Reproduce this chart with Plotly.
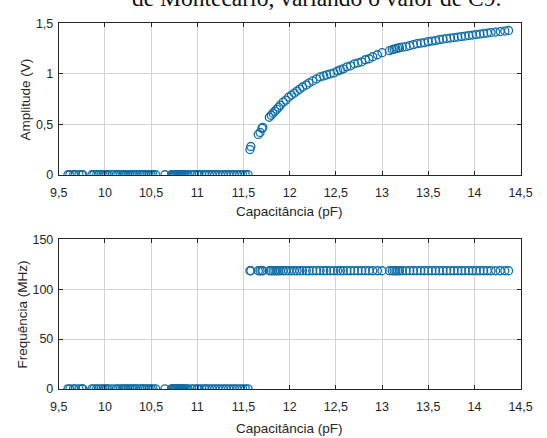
import plotly.graph_objects as go

# Capacitance samples (pF) where the oscillator does not start
cap_off = [9.60, 9.62, 9.66, 9.68, 9.72, 9.75, 9.76, 9.86, 9.88, 9.91, 9.93, 9.96,
           9.98, 10.00, 10.02, 10.04, 10.08, 10.12, 10.14, 10.17, 10.19, 10.21, 10.23,
           10.25, 10.27, 10.29, 10.31, 10.33, 10.35, 10.38, 10.40, 10.42, 10.44, 10.46,
           10.48, 10.50, 10.52, 10.55, 10.65, 10.72, 10.73, 10.74, 10.75, 10.76, 10.77,
           10.78, 10.79, 10.80, 10.81, 10.82, 10.83, 10.84, 10.85, 10.86, 10.88, 10.90,
           10.94, 10.97, 11.00, 11.02, 11.05, 11.08, 11.10, 11.13, 11.16, 11.19, 11.22,
           11.25, 11.28, 11.31, 11.34, 11.37, 11.40, 11.43, 11.46, 11.49, 11.52, 11.55]
amp_off = [0.0] * len(cap_off)
freq_off = [0.0] * len(cap_off)

# Capacitance samples (pF) where the oscillator runs, with output amplitude (V)
cap_on = [11.57, 11.58, 11.66, 11.68, 11.70, 11.71, 11.78, 11.80, 11.82, 11.84, 11.86,
          11.88, 11.90, 11.93, 11.96, 11.99, 12.02, 12.05, 12.08, 12.11, 12.14, 12.18,
          12.21, 12.25, 12.29, 12.33, 12.37, 12.40, 12.44, 12.48, 12.52, 12.55, 12.58,
          12.62, 12.66, 12.70, 12.74, 12.78, 12.82, 12.86, 12.90, 12.95, 13.00, 13.08,
          13.11, 13.13, 13.15, 13.17, 13.19, 13.22, 13.26, 13.30, 13.34, 13.38, 13.42,
          13.46, 13.50, 13.54, 13.58, 13.62, 13.66, 13.70, 13.74, 13.78, 13.82, 13.86,
          13.90, 13.94, 13.98, 14.02, 14.06, 14.10, 14.14, 14.18, 14.23, 14.28, 14.33,
          14.37]
amp_on = [0.25, 0.28, 0.40, 0.42, 0.46, 0.47, 0.57, 0.59, 0.61, 0.63, 0.65,
          0.67, 0.69, 0.72, 0.74, 0.77, 0.79, 0.81, 0.83, 0.85, 0.87, 0.89,
          0.91, 0.93, 0.95, 0.97, 0.98, 0.99, 1.00, 1.01, 1.03, 1.04, 1.05,
          1.07, 1.08, 1.10, 1.11, 1.12, 1.14, 1.15, 1.17, 1.19, 1.21, 1.23,
          1.24, 1.245, 1.25, 1.255, 1.26, 1.265, 1.27, 1.28, 1.29, 1.30, 1.305,
          1.31, 1.32, 1.325, 1.33, 1.34, 1.345, 1.35, 1.355, 1.36, 1.365, 1.37,
          1.375, 1.38, 1.385, 1.39, 1.395, 1.40, 1.405, 1.41, 1.415, 1.42, 1.425,
          1.43]
freq_on = [118.5] * len(cap_on)

x_ticks = [9.5, 10, 10.5, 11, 11.5, 12, 12.5, 13, 13.5, 14, 14.5]
x_labels = ["9,5", "10", "10,5", "11", "11,5", "12", "12,5", "13", "13,5", "14", "14,5"]
amp_ticks = [0, 0.5, 1, 1.5]
amp_labels = ["0", "0,5", "1", "1,5"]
freq_ticks = [0, 50, 100, 150]
freq_labels = ["0", "50", "100", "150"]

W, H = 547, 438
blue = "#0f6ea8"
dark = "#262626"
family = "Liberation Sans, Arial, sans-serif"
tick_font = dict(family=family, size=12.5, color=dark)
title_font = dict(family=family, size=13.5, color=dark)

marker = dict(symbol="circle-open", size=8, color=blue, line=dict(width=1.3, color=blue))

fig = go.Figure()
fig.add_trace(go.Scatter(x=cap_off + cap_on, y=amp_off + amp_on, mode="markers",
                         marker=marker, xaxis="x", yaxis="y", showlegend=False))
fig.add_trace(go.Scatter(x=cap_off + cap_on, y=freq_off + freq_on, mode="markers",
                         marker=marker, xaxis="x2", yaxis="y2", showlegend=False))

x_dom = [51.7 / W, 532 / W]
top_dom = [1 - 173.3 / H, 1 - 17 / H]
bot_dom = [1 - 394.5 / H, 1 - 240 / H]

axis_common = dict(showline=True, linecolor=dark, linewidth=0.8, mirror="ticks",
                   ticks="inside", ticklen=4, tickcolor=dark, showgrid=True,
                   gridcolor="#d4d4d4", gridwidth=0.8, zeroline=False,
                   tickfont=tick_font)

fig.update_layout(
    width=W, height=H,
    margin=dict(l=0, r=0, t=0, b=0),
    paper_bgcolor="white", plot_bgcolor="white",
    font=tick_font,
    xaxis=dict(domain=x_dom, range=[9.5, 14.5], tickvals=x_ticks, ticktext=x_labels,
               anchor="y", ticklabelstandoff=6, **axis_common),
    yaxis=dict(domain=top_dom, range=[0, 1.5], tickvals=amp_ticks, ticktext=amp_labels,
               anchor="x", ticklabelstandoff=2, **axis_common),
    xaxis2=dict(domain=x_dom, range=[9.5, 14.5], tickvals=x_ticks, ticktext=x_labels,
                anchor="y2", ticklabelstandoff=6, **axis_common),
    yaxis2=dict(domain=bot_dom, range=[0, 150], tickvals=freq_ticks, ticktext=freq_labels,
                anchor="x2", ticklabelstandoff=2, **axis_common),
)

ann = [
    dict(text="Capacitância (pF)", x=(x_dom[0] + x_dom[1]) / 2, y=1 - 211 / H,
         xref="paper", yref="paper", showarrow=False, xanchor="center", yanchor="middle",
         font=title_font),
    dict(text="Capacitância (pF)", x=(x_dom[0] + x_dom[1]) / 2, y=1 - 435 / H,
         xref="paper", yref="paper", showarrow=False, xanchor="center", yanchor="middle",
         font=title_font),
    dict(text="Amplitude (V)", x=17 / W, y=(top_dom[0] + top_dom[1]) / 2,
         xref="paper", yref="paper", showarrow=False, textangle=-90,
         xanchor="center", yanchor="middle", font=title_font),
    dict(text="Frequência (MHz)", x=14 / W, y=(bot_dom[0] + bot_dom[1]) / 2,
         xref="paper", yref="paper", showarrow=False, textangle=-90,
         xanchor="center", yanchor="middle", font=title_font),
    dict(text="de Montecarlo, variando o valor de C9.", x=320 / W, y=1 - 6 / H,
         xref="paper", yref="paper", showarrow=False, xanchor="center", yanchor="bottom",
         font=dict(family="Liberation Serif, DejaVu Serif, serif", size=23.5, color="#111111")),
]
fig.update_layout(annotations=ann)

fig.write_html("out.html")
